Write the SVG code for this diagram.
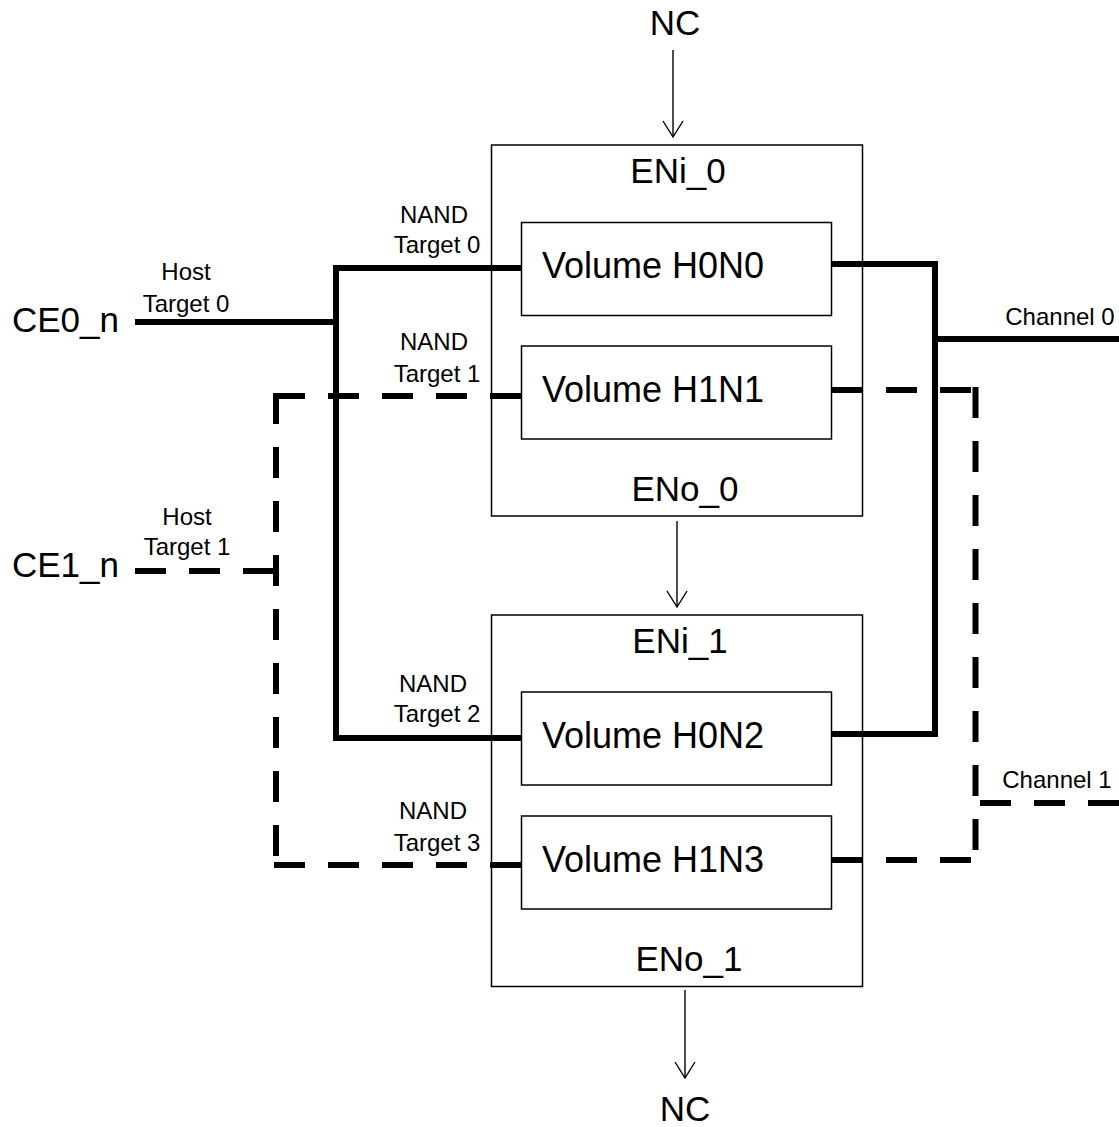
<svg xmlns="http://www.w3.org/2000/svg" width="1119" height="1127" viewBox="0 0 1119 1127">
<style>
text{font-family:"Liberation Sans",Arial,sans-serif;fill:#000}
.big{font-size:35px}
.vol{font-size:36px}
.sm{font-size:24px}
.box{fill:#fff;stroke:#000;stroke-width:1.5}
.thick{fill:none;stroke:#000;stroke-width:6;stroke-linejoin:miter;stroke-linecap:butt}
.dash{fill:none;stroke:#000;stroke-width:6;stroke-dasharray:31 23;stroke-linecap:butt}
.arrow{fill:none;stroke:#000;stroke-width:1.4}
</style>
<defs>
<marker id="ah" markerUnits="userSpaceOnUse" viewBox="-18 -12 20 24" markerWidth="20" markerHeight="24" refX="0" refY="0" orient="auto">
<path d="M-16,-10 L0,0 L-16,10" fill="none" stroke="#000" stroke-width="1.4"/>
</marker>
</defs>

<g id="enclosure0">
<rect class="box" x="491.5" y="145" width="371" height="371"/>
<text class="big" x="678" y="183" text-anchor="middle">ENi_0</text>
<text class="big" x="685" y="501" text-anchor="middle">ENo_0</text>
</g>
<g id="enclosure1">
<rect class="box" x="491.5" y="615" width="371" height="371.5"/>
<text class="big" x="680" y="653" text-anchor="middle">ENi_1</text>
<text class="big" x="689" y="971" text-anchor="middle">ENo_1</text>
</g>
<g id="volH0N0">
<rect class="box" x="521.5" y="222.5" width="310" height="93"/>
<text class="vol" x="542" y="278">Volume H0N0</text>
</g>
<g id="volH1N1">
<rect class="box" x="521.5" y="346" width="310" height="93"/>
<text class="vol" x="542" y="402">Volume H1N1</text>
</g>
<g id="volH0N2">
<rect class="box" x="521.5" y="692" width="310" height="93"/>
<text class="vol" x="542" y="748">Volume H0N2</text>
</g>
<g id="volH1N3">
<rect class="box" x="521.5" y="816" width="310" height="93"/>
<text class="vol" x="542" y="872">Volume H1N3</text>
</g>

<g id="connectors">
<polyline class="thick" points="135,322 336,322"/>
<polyline class="thick" points="521,268 336,268 336,738 521,738"/>
<polyline class="thick" points="832,264 935,264 935,734 832,734"/>
<polyline class="thick" points="935,339 1119,339"/>
<line class="dash" x1="274" y1="396" x2="521" y2="396"/>
<line class="dash" x1="276" y1="393" x2="276" y2="868"/>
<line class="dash" x1="274" y1="865" x2="521" y2="865"/>
<line class="dash" x1="135" y1="571" x2="279" y2="571"/>
<line class="dash" x1="832" y1="390" x2="975" y2="390"/>
<line class="dash" x1="975.5" y1="387" x2="975.5" y2="863"/>
<line class="dash" x1="832" y1="860" x2="978" y2="860"/>
<line class="dash" x1="980" y1="803" x2="1119" y2="803"/>
<line class="arrow" x1="673" y1="50" x2="673" y2="137" marker-end="url(#ah)"/>
<line class="arrow" x1="677" y1="521" x2="677" y2="607" marker-end="url(#ah)"/>
<line class="arrow" x1="685" y1="990" x2="685" y2="1078" marker-end="url(#ah)"/>
</g>

<g id="labels">
<text class="big" x="675" y="35" text-anchor="middle">NC</text>
<text class="big" x="685" y="1121" text-anchor="middle">NC</text>
<text class="big" x="12" y="332">CE0_n</text>
<text class="big" x="12" y="577">CE1_n</text>
<text class="sm" x="186" y="280" text-anchor="middle">Host</text>
<text class="sm" x="186" y="312" text-anchor="middle">Target 0</text>
<text class="sm" x="187" y="525" text-anchor="middle">Host</text>
<text class="sm" x="187" y="555" text-anchor="middle">Target 1</text>
<text class="sm" x="434" y="223" text-anchor="middle">NAND</text>
<text class="sm" x="437" y="253" text-anchor="middle">Target 0</text>
<text class="sm" x="434" y="350" text-anchor="middle">NAND</text>
<text class="sm" x="437" y="382" text-anchor="middle">Target 1</text>
<text class="sm" x="433" y="692" text-anchor="middle">NAND</text>
<text class="sm" x="437" y="722" text-anchor="middle">Target 2</text>
<text class="sm" x="433" y="819" text-anchor="middle">NAND</text>
<text class="sm" x="437" y="851" text-anchor="middle">Target 3</text>
<text class="sm" x="1060" y="325" text-anchor="middle">Channel 0</text>
<text class="sm" x="1057" y="788" text-anchor="middle">Channel 1</text>
</g>
</svg>
